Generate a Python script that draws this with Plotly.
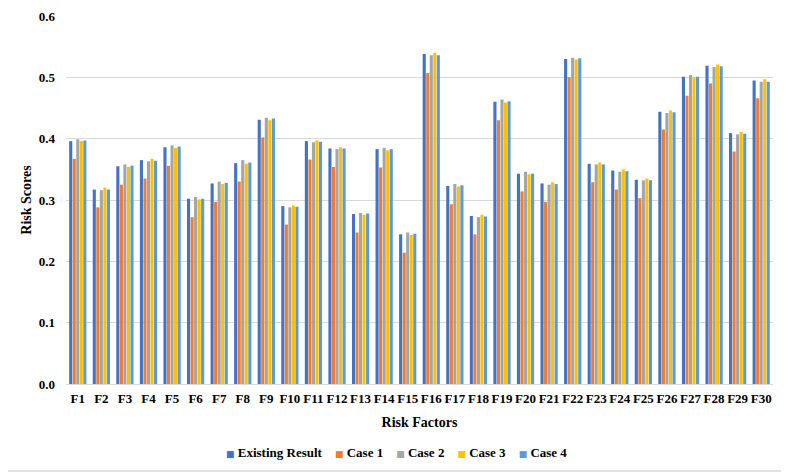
import plotly.graph_objects as go

categories = [f"F{i}" for i in range(1, 31)]

existing = [0.396, 0.317, 0.355, 0.365, 0.386, 0.302, 0.327, 0.360, 0.431, 0.290,
            0.396, 0.384, 0.277, 0.383, 0.244, 0.538, 0.323, 0.274, 0.460, 0.343,
            0.327, 0.530, 0.359, 0.348, 0.333, 0.444, 0.501, 0.519, 0.409, 0.495]
case1 = [0.367, 0.288, 0.325, 0.335, 0.356, 0.272, 0.297, 0.330, 0.402, 0.260,
         0.366, 0.354, 0.247, 0.353, 0.214, 0.507, 0.293, 0.244, 0.430, 0.314,
         0.297, 0.500, 0.329, 0.317, 0.303, 0.415, 0.470, 0.490, 0.379, 0.466]
case2 = [0.399, 0.316, 0.358, 0.363, 0.389, 0.305, 0.330, 0.365, 0.434, 0.288,
         0.394, 0.383, 0.279, 0.385, 0.247, 0.536, 0.326, 0.272, 0.464, 0.346,
         0.325, 0.532, 0.358, 0.346, 0.332, 0.442, 0.504, 0.517, 0.407, 0.493]
case3 = [0.396, 0.320, 0.354, 0.367, 0.385, 0.301, 0.326, 0.359, 0.430, 0.291,
         0.397, 0.386, 0.276, 0.381, 0.243, 0.540, 0.322, 0.276, 0.459, 0.342,
         0.329, 0.529, 0.361, 0.350, 0.335, 0.446, 0.500, 0.521, 0.411, 0.497]
case4 = [0.397, 0.317, 0.356, 0.364, 0.387, 0.302, 0.328, 0.361, 0.433, 0.289,
         0.395, 0.384, 0.278, 0.383, 0.245, 0.536, 0.324, 0.273, 0.461, 0.343,
         0.326, 0.531, 0.358, 0.347, 0.332, 0.443, 0.501, 0.518, 0.408, 0.493]

series_names = ["Existing Result", "Case 1", "Case 2", "Case 3", "Case 4"]
series_values = [existing, case1, case2, case3, case4]
colors = ["#4472C4", "#ED7D31", "#A5A5A5", "#FFC000", "#5B9BD5"]
y_ticks = [0.0, 0.1, 0.2, 0.3, 0.4, 0.5, 0.6]

FONT = "Liberation Serif"
PAGE_OFF = 8  # default body margin of the html page
W, H = 789 - PAGE_OFF, 473 - PAGE_OFF
ML, MR, MT, MB = 66 - PAGE_OFF, 16, 16 - PAGE_OFF, 89
pw = W - ML - MR
ph = H - MT - MB

fig = go.Figure()
for name, vals, col in zip(series_names, series_values, colors):
    fig.add_trace(go.Bar(x=categories, y=vals, name=name, showlegend=False,
                         marker=dict(color=col, line=dict(width=0))))

# outer chart border (right/bottom edges visible inside the page)
fig.add_shape(type="rect", xref="paper", yref="paper",
              x0=(1 - 66) / pw, x1=(W - 2 - ML) / pw,
              y0=-(MB - 2) / ph, y1=1 + (16 - 1) / ph,
              line=dict(color="#D9D9D9", width=1.5), layer="below")

# legend built from series names and colours
gap = "&nbsp;" * 4
legend_text = gap.join(
    f"<span style='color:{c};font-size:9px;font-family:DejaVu Sans'>■</span> <b>{n}</b>"
    for n, c in zip(series_names, colors)
)
fig.add_annotation(text=legend_text, xref="paper", yref="paper",
                   x=(396.5 - 66) / pw, y=-(452 - 384) / ph,
                   xanchor="center", yanchor="middle", showarrow=False,
                   font=dict(family=FONT, size=13, color="#000000"))

fig.update_layout(
    width=W, height=H,
    margin=dict(l=ML, r=MR, t=MT, b=MB, autoexpand=False),
    paper_bgcolor="white", plot_bgcolor="white",
    barmode="group", bargap=0.25, bargroupgap=0.12,
    font=dict(family=FONT, size=13, color="#000000"),
    showlegend=False,
    xaxis=dict(title=dict(text="<b>Risk Factors</b>", font=dict(family=FONT, size=14), standoff=12),
               tickfont=dict(family=FONT, size=13, weight="bold"),
               showgrid=False, showline=True, linecolor="#D9D9D9", linewidth=1,
               ticks="", automargin=False, ticklabelstandoff=2),
    yaxis=dict(title=dict(text="<b>Risk Scores</b>", font=dict(family=FONT, size=14), standoff=3),
               range=[0, 0.6], tickvals=y_ticks, tickformat=".1f",
               tickfont=dict(family=FONT, size=13, weight="bold"),
               showgrid=True, gridcolor="#D9D9D9", gridwidth=1,
               zeroline=False, showline=False, ticks="", automargin=False,
               ticklabelstandoff=10),
)

fig.write_html("out.html")
